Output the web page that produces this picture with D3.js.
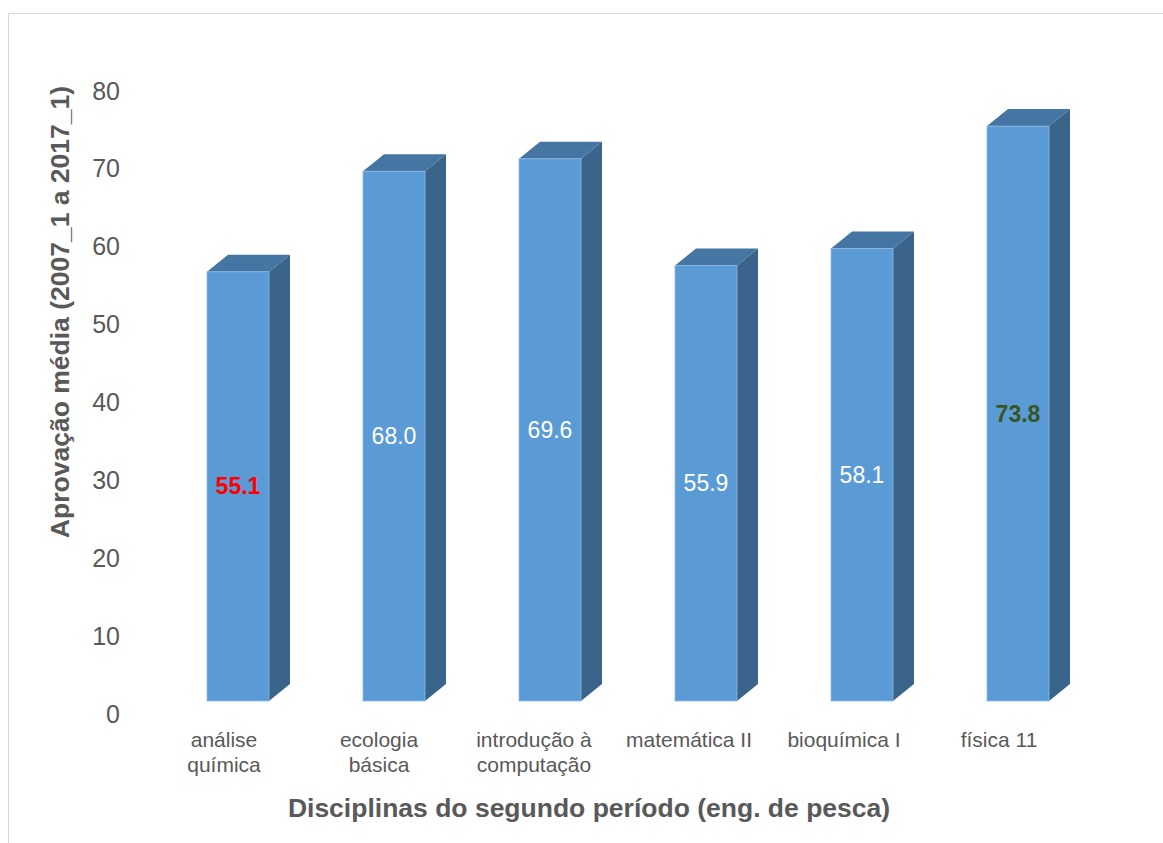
<!DOCTYPE html>
<html><head><meta charset="utf-8">
<script src="https://cdn.jsdelivr.net/npm/d3@7"></script>
<style>body{margin:0;background:#fff;}svg{display:block;font-family:Arial,"Liberation Sans",sans-serif;}</style>
</head><body>
<svg id="c" width="1163" height="843"></svg>
<script>
const categories = [["análise","química"],["ecologia","básica"],["introdução à","computação"],["matemática II"],["bioquímica I"],["física 11"]];
const values = [55.1, 68.0, 69.6, 55.9, 58.1, 73.8];
const labelColors = ["#FF0000","#FFFFFF","#FFFFFF","#FFFFFF","#FFFFFF","#375623"];
const labelWeights = ["bold","normal","normal","normal","normal","bold"];
const yTicks = [0,10,20,30,40,50,60,70,80];
const yTitle = "Aprovação média (2007_1 a 2017_1)";
const xTitle = "Disciplinas do segundo período (eng. de pesca)";

const svg = d3.select("#c");
svg.append("rect").attr("x",8.5).attr("y",13.5).attr("width",1200).attr("height",900)
  .attr("fill","#fff").attr("stroke","#d9d9d9").attr("stroke-width",1);

const keys = categories.map((c,i)=>i);
const x = d3.scaleBand().domain(keys).range([160,160+6*156]).paddingInner(0.6026).paddingOuter(0.3013);
const y = d3.scaleLinear().domain([0,80]).range([701,701-623.2]);
const xl = d3.scalePoint().domain(keys).range([224,999]);
const dx = 21, dy = -17;

// y axis tick labels
const ax = svg.append("g");
ax.selectAll("text").data(yTicks).join("text")
  .attr("x",120).attr("y",d=>y(d)+13).attr("dy","0.35em")
  .attr("text-anchor","end").attr("fill","#595959").attr("font-size",25).text(d=>d);

const g = svg.append("g");
const bars = g.selectAll("g.bar").data(values).join("g").attr("class","bar");
bars.append("path").attr("fill","#3A6489").attr("d",(v,i)=>{
  const x1 = x(i)+x.bandwidth(), yt=y(v), yb=y(0);
  return `M${x1},${yt}L${x1+dx},${yt+dy}L${x1+dx},${yb+dy}L${x1},${yb}Z`;
});
bars.append("path").attr("fill","#4575A3").attr("d",(v,i)=>{
  const x0 = x(i), x1 = x(i)+x.bandwidth(), yt=y(v);
  return `M${x0},${yt}L${x0+dx},${yt+dy}L${x1+dx},${yt+dy}L${x1},${yt}Z`;
});
bars.append("rect").attr("x",(v,i)=>x(i)).attr("y",v=>y(v))
  .attr("width",x.bandwidth()).attr("height",v=>y(0)-y(v))
  .attr("fill","#5B9BD5").attr("stroke","#8DB8E4").attr("stroke-width",0.8);
bars.append("text").attr("x",(v,i)=>x(i)+x.bandwidth()/2).attr("y",v=>(y(v)+y(0))/2)
  .attr("dy","0.35em").attr("text-anchor","middle").attr("font-size",23)
  .attr("fill",(v,i)=>labelColors[i]).attr("font-weight",(v,i)=>labelWeights[i])
  .text(v=>v.toFixed(1));

// category labels
const cl = svg.append("g");
categories.forEach((lines,i)=>{
  const t = cl.append("text").attr("x",xl(i)).attr("y",747).attr("text-anchor","middle")
    .attr("fill","#595959").attr("font-size",21);
  lines.forEach((s,j)=>t.append("tspan").attr("x",xl(i)).attr("dy",j?25:0).text(s));
});

svg.append("text").attr("x",589).attr("y",817).attr("text-anchor","middle")
  .attr("font-size",26.5).attr("font-weight","bold").attr("fill","#595959").text(xTitle);
svg.append("text").attr("transform","translate(69,312) rotate(-90)").attr("text-anchor","middle")
  .attr("font-size",26.5).attr("font-weight","bold").attr("fill","#595959").text(yTitle);
</script>
</body></html>
